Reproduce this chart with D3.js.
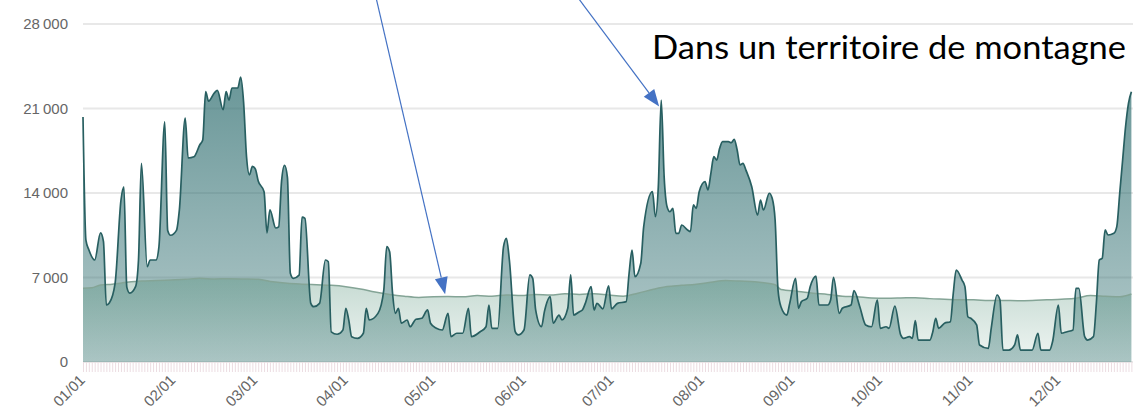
<!DOCTYPE html>
<html>
<head>
<meta charset="utf-8">
<title>Fréquentation - territoire de montagne</title>
<script src="https://cdn.jsdelivr.net/npm/d3@7"></script>
<style>
  body { margin: 0; background: #fff; }
</style>
</head>
<body>
<script>
var w = 1133, h = 410;

// [jour de l'année, valeur] - série journalière du territoire de montagne
var frequentation = [
  [0,20300],[1,10100],[2,9300],[4,8450],[6,10700],[7,10000],[8,4720],[9,4890],[11,6540],
  [13,13400],[14,14500],[15,6200],[16,5700],[18,6240],[19,8450],[20,16460],[22,7900],[23,8450],
  [25,8450],[26,9550],[28,19900],[29,10900],[30,10500],[32,10900],[33,12600],[35,20200],[36,16900],
  [38,17000],[40,18000],[41,18400],[42,22400],[43,21600],[45,22300],[46,22500],[48,20900],[49,22400],
  [50,21700],[51,22700],[53,22700],[54,23600],[55,21500],[56,17000],[57,15500],[58,16200],[59,16000],
  [60,15000],[62,14100],[63,10700],[64,12600],[66,11100],[67,11200],[68,15000],[69,16300],[70,15300],
  [71,7350],[72,6930],[74,7200],[75,12000],[76,11900],[78,4860],[79,4580],[81,4860],[83,8450],
  [84,8300],[85,2500],[87,2300],[89,2650],[90,4450],[91,3480],[92,2100],[94,1960],[96,2380],
  [97,4450],[98,3480],[101,4030],[103,5960],[104,9550],[105,9140],[106,5690],[107,4030],[108,4450],
  [109,3210],[111,3480],[112,2920],[114,3540],[116,3620],[118,4310],[119,3210],[121,2790],[123,2650],
  [125,4030],[126,2100],[128,2380],[130,2380],[132,4450],[133,2100],[136,2510],[138,2920],[139,4720],
  [140,2790],[142,2790],[144,9550],[145,10250],[146,8450],[148,2510],[149,2240],[151,2650],[153,7210],
  [154,6930],[155,4310],[157,2920],[158,4170],[160,5410],[161,3210],[163,3890],[164,3480],[166,4450],
  [167,7210],[168,3890],[170,4170],[171,4310],[172,4860],[174,6240],[175,4310],[176,4860],[178,4400],
  [180,6300],[181,4400],[183,4860],[186,5000],[187,7350],[188,9280],[189,7070],[191,8180],[192,11210],
  [195,14110],[196,12040],[197,14520],[198,21700],[199,15350],[200,12870],[201,12450],[202,12730],
  [203,10660],[204,10660],[205,11350],[207,10940],[208,10800],[209,13010],[210,12730],[211,14110],
  [213,14940],[214,14250],[215,15630],[216,17010],[217,16730],[218,17700],[219,18250],[221,18250],
  [222,18170],[223,18450],[224,17560],[225,16320],[226,16460],[227,15900],[229,14520],[231,12180],
  [232,13420],[233,12590],[235,13980],[236,13560],[237,11760],[238,5960],[239,4580],[241,3890],
  [242,4860],[244,6930],[245,4450],[246,5000],[248,5280],[249,6240],[251,7120],[252,4720],[255,4720],
  [256,5140],[257,7020],[259,4030],[260,4450],[263,4720],[264,5910],[266,4580],[268,3070],[270,2920],
  [272,5140],[273,2790],[275,2920],[276,2790],[278,4640],[280,2240],[281,1960],[283,2100],[284,1960],
  [285,3420],[286,1820],[288,1820],[290,1820],[291,2510],[292,3620],[293,2790],[295,3210],[297,3340],
  [298,5690],[299,7620],[301,6790],[302,6240],[303,3750],[304,3620],[306,3070],[307,1410],[310,1130],
  [311,2790],[313,5550],[314,5140],[315,990],[317,990],[319,1410],[320,2240],[321,990],[323,990],
  [325,990],[327,2380],[328,990],[331,990],[332,1680],[334,4720],[335,2380],[337,2510],[339,2650],
  [340,6100],[341,6100],[343,2100],[344,1820],[346,2100],[347,4860],[348,8450],[349,8590],[350,10940],
  [351,10520],[353,10660],[354,11210],[355,13980],[356,16730],[357,19490],[358,21430],[359,22390]
];

// [jour de l'année, valeur] - courbe de référence (moyenne)
var reference = [
  [0,6100],[3,6150],[6,6380],[10,6450],[15,6600],[20,6710],[25,6750],[30,6800],[35,6850],[40,6930],
  [45,6880],[50,6900],[55,6880],[60,6850],[65,6650],[70,6520],[75,6450],[80,6400],[85,6350],[90,6240],
  [95,6050],[100,5800],[105,5600],[110,5450],[115,5350],[120,5400],[125,5420],[130,5400],[135,5500],
  [140,5450],[145,5550],[150,5500],[155,5600],[160,5550],[165,5650],[170,5600],[175,5650],[180,5550],
  [185,5450],[190,5700],[195,6000],[200,6250],[205,6350],[210,6450],[215,6600],[220,6750],[225,6700],
  [230,6650],[235,6500],[237,6400],[239,6000],[245,5850],[250,5700],[255,5600],[260,5450],[265,5400],
  [270,5300],[275,5280],[280,5300],[285,5330],[290,5250],[295,5200],[300,5150],[305,5150],[310,5100],
  [315,5100],[320,5080],[325,5100],[330,5150],[335,5200],[340,5280],[345,5500],[350,5450],[355,5400],
  [359,5630]
];

var yTicks = [0, 7000, 14000, 21000, 28000];
var titre = "Dans un territoire de montagne";

// flèches : pointe sur [jour, valeur]
var fleches = [
  { jour: 124, valeur: 5450, dx: -69 },
  { jour: 197.3, valeur: 21000, dx: -81 }
];

var debut = new Date(2019, 0, 1);
function jourDate(j) { return new Date(debut.getTime() + j * 864e5); }

var x = d3.scaleTime().domain([debut, new Date(2019, 11, 31)]).range([83, 1146]);
var y = d3.scaleLinear().domain([0, 28000]).range([362, 24]);

var fr = d3.formatLocale({ decimal: ",", thousands: "\u2009", grouping: [3], currency: ["", "€"] });
var fmt = fr.format(",");

var svg = d3.select("body").append("svg").attr("width", w).attr("height", h);

var defs = svg.append("defs");
var g1 = defs.append("linearGradient").attr("id", "gradMain")
  .attr("gradientUnits", "userSpaceOnUse").attr("x1", 0).attr("x2", 0).attr("y1", 76).attr("y2", 362);
g1.append("stop").attr("offset", "0%").attr("stop-color", "#2f6e70").attr("stop-opacity", 0.72);
g1.append("stop").attr("offset", "100%").attr("stop-color", "#2f6e70").attr("stop-opacity", 0.36);

var g2 = defs.append("linearGradient").attr("id", "gradRef")
  .attr("gradientUnits", "userSpaceOnUse").attr("x1", 0).attr("x2", 0).attr("y1", 278).attr("y2", 362);
g2.append("stop").attr("offset", "0%").attr("stop-color", "#3f8468").attr("stop-opacity", 0.3);
g2.append("stop").attr("offset", "100%").attr("stop-color", "#3f8468").attr("stop-opacity", 0.08);

// gridlines + labels
svg.selectAll("line.grid").data(yTicks).enter().append("line")
  .attr("class", "grid")
  .attr("x1", 83).attr("x2", w)
  .attr("y1", function(d) { return y(d); }).attr("y2", function(d) { return y(d); })
  .attr("stroke", "#e8e8e8").attr("stroke-width", 2);

svg.selectAll("text.ylab").data(yTicks).enter().append("text")
  .attr("class", "ylab")
  .attr("x", 68).attr("y", function(d) { return y(d); })
  .attr("dy", "0.35em")
  .attr("text-anchor", "end")
  .attr("font-family", "Liberation Sans, Arial, sans-serif")
  .attr("font-size", "15px")
  .attr("fill", "#666")
  .text(function(d) { return fmt(d); });

// daily tick band under the plot
var band = svg.append("g").attr("transform", "translate(0," + 362 + ")")
  .call(d3.axisBottom(x).ticks(d3.timeDay.every(1)).tickSize(10).tickFormat(""));
band.select(".domain").remove();
band.selectAll("line").attr("stroke", "#ecdde2").attr("stroke-width", 1);

// month labels
var mois = d3.timeMonth.range(debut, new Date(2019, 11, 31));
svg.selectAll("text.xlab").data(mois).enter().append("text")
  .attr("class", "xlab")
  .attr("transform", function(d) { return "translate(" + (x(d) + 3) + ",381) rotate(-45)"; })
  .attr("text-anchor", "end")
  .attr("font-family", "Liberation Sans, Arial, sans-serif")
  .attr("font-size", "15px")
  .attr("fill", "#666")
  .text(d3.timeFormat("%m/%d"));

var area = d3.area()
  .x(function(d) { return x(jourDate(d[0])); })
  .y0(y(0))
  .y1(function(d) { return y(d[1]); })
  .curve(d3.curveMonotoneX);
var line = d3.line()
  .x(function(d) { return x(jourDate(d[0])); })
  .y(function(d) { return y(d[1]); })
  .curve(d3.curveMonotoneX);

svg.append("path").datum(frequentation).attr("d", area).attr("fill", "url(#gradMain)");
svg.append("path").datum(reference).attr("d", area).attr("fill", "url(#gradRef)");
svg.append("path").datum(reference).attr("d", line)
  .attr("fill", "none").attr("stroke", "#84a496").attr("stroke-width", 1.5);
svg.append("path").datum(frequentation).attr("d", line)
  .attr("fill", "none").attr("stroke", "#285f61").attr("stroke-width", 1.7)
  .attr("stroke-linejoin", "round");

// annotation text
svg.append("text")
  .attr("x", 652).attr("y", 59)
  .attr("font-family", "Lato, Open Sans, sans-serif")
  .attr("font-size", "32px")
  .attr("fill", "#000")
  .attr("textLength", 474)
  .attr("lengthAdjust", "spacingAndGlyphs")
  .text(titre);

// arrows
var tip = svg.selectAll("g.fleche").data(fleches).enter().append("g").attr("class", "fleche");
tip.each(function(d) {
  var tx = x(jourDate(d.jour)), ty = y(d.valeur) - 2;
  var sx = tx + d.dx, sy = -2;
  var ang = Math.atan2(ty - sy, tx - sx);
  var len = 17, half = 6.5;
  var bx = tx - len * Math.cos(ang), by = ty - len * Math.sin(ang);
  var g = d3.select(this);
  g.append("line").attr("x1", sx).attr("y1", sy).attr("x2", bx).attr("y2", by)
    .attr("stroke", "#4472c4").attr("stroke-width", 1.2);
  g.append("path")
    .attr("d", "M" + tx + "," + ty +
      "L" + (bx + half * Math.sin(ang)) + "," + (by - half * Math.cos(ang)) +
      "L" + (bx - half * Math.sin(ang)) + "," + (by + half * Math.cos(ang)) + "Z")
    .attr("fill", "#4472c4");
});
</script>
</body>
</html>
